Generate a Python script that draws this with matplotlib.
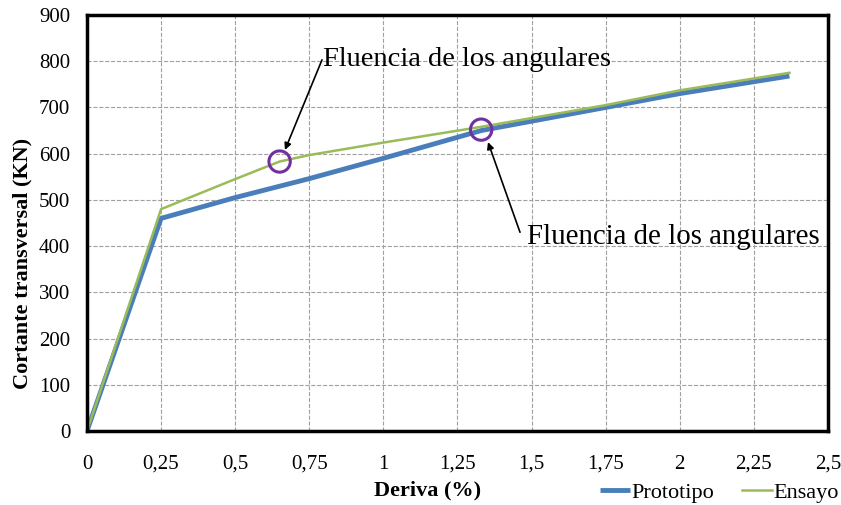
import matplotlib.pyplot as plt
from matplotlib.patches import Ellipse

plt.rcParams['font.family'] = ['Liberation Serif', 'DejaVu Serif']

# Prototipo
x_proto = [0, 0.25, 0.5, 0.75, 1.0, 1.33, 1.75, 2.0, 2.37]
y_proto = [0, 460, 505, 546, 590, 650, 700, 730, 768]
# Ensayo
x_ens = [0, 0.25, 0.5, 0.65, 0.75, 1.0, 1.33, 1.75, 2.0, 2.37]
y_ens = [0, 480, 545, 583, 597, 624, 658, 705, 737, 775]

xticks = [0, 0.25, 0.5, 0.75, 1, 1.25, 1.5, 1.75, 2, 2.25, 2.5]
xlabels = ['0', '0,25', '0,5', '0,75', '1', '1,25', '1,5', '1,75', '2', '2,25', '2,5']
yticks = [0, 100, 200, 300, 400, 500, 600, 700, 800, 900]

# puntos de fluencia marcados
fl_pts = [(0.65, 583), (1.33, 652)]

fig = plt.figure(figsize=(8.41, 5.05), dpi=100)
ax = fig.add_axes([0.1034, 0.1465, 0.8811, 0.8238])

ax.plot(x_proto, y_proto, color='#4A7EBB', lw=3.5, label='Prototipo', solid_capstyle='butt')
ax.plot(x_ens, y_ens, color='#9BBB59', lw=1.8, label='Ensayo')

ax.set_xlim(0, 2.5)
ax.set_ylim(0, 900)
ax.set_xticks(xticks)
ax.set_xticklabels(xlabels)
ax.set_yticks(yticks)
ax.tick_params(labelsize=15, length=0)
ax.tick_params(axis='x', pad=17)
ax.tick_params(axis='y', pad=12)
ax.grid(True, color='#A0A0A0', ls='--', lw=0.8)
for s in ax.spines.values():
    s.set_linewidth(2.5)
    s.set_color('black')

ax.set_xlabel('Deriva (%)', fontsize=16, fontweight='bold')
ax.xaxis.set_label_coords(0.46, -0.118)
ax.set_ylabel('Cortante transversal (KN)', fontsize=16, fontweight='bold')
ax.yaxis.set_label_coords(-0.073, 0.404)

# circulos en data coords (ancho/alto para ~22 px)
for px, py in fl_pts:
    ax.add_patch(Ellipse((px, py), 0.072, 46, fill=False, ec='#7030A0', lw=2.2, zorder=5))

arrow = dict(arrowstyle='-|>', color='black', lw=1.2, shrinkA=0, shrinkB=0, mutation_scale=10)
ax.annotate('', xy=(0.668, 608), xytext=(0.793, 803), arrowprops=arrow)
ax.text(0.795, 803, 'Fluencia de los angulares', fontsize=20.5, va='center', ha='left')
ax.annotate('', xy=(1.353, 625), xytext=(1.461, 430), arrowprops=arrow)
ax.text(1.485, 420, 'Fluencia de los angulares', fontsize=20.8, va='center', ha='left')

fig.legend(loc='center right', bbox_to_anchor=(0.997, 0.024), ncol=2, frameon=False,
           fontsize=16, handlelength=1.35, handletextpad=0.05, columnspacing=1.25,
           borderaxespad=0, borderpad=0)

fig.savefig('out.png', dpi=100)
